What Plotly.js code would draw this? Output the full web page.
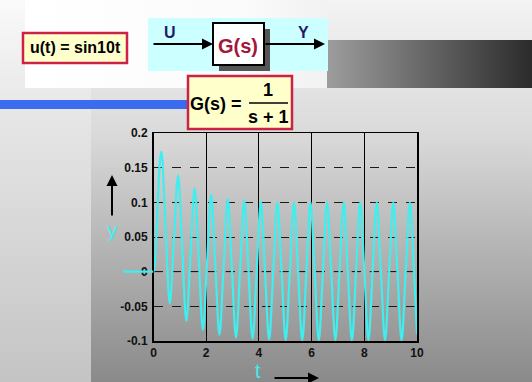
<!DOCTYPE html>
<html>
<head>
<meta charset="utf-8">
<script src="https://cdn.plot.ly/plotly-3.0.1.min.js"></script>
<style>
  html, body { margin:0; padding:0; }
  #wrap { position:relative; width:532px; height:382px; overflow:hidden;
    background: linear-gradient(to bottom, #f3f3f3 0%, #dadada 35%, #b3b3b3 66%, #8a8a8a 100%); }
  #strip { position:absolute; left:0; top:0; width:91px; height:382px;
    background: linear-gradient(to bottom, #fafafa 0%, #e6e6e6 30%, #c4c4c4 100%); }
  #whiteRect { position:absolute; left:25px; top:0; width:302px; height:88px;
    background: linear-gradient(to right, #ffffff 0%, #fbfbfb 70%, #f1f1f1 100%); }
  #band { position:absolute; left:327px; top:40px; width:205px; height:48px;
    background: linear-gradient(to right, #9d9d9d 0%, #6a6a6a 45%, #2b2b2b 100%); }
  #plot { position:absolute; left:0; top:0; width:532px; height:382px; }
</style>
</head>
<body>
<div id="wrap">
  <div id="strip"></div>
  <div id="whiteRect"></div>
  <div id="band"></div>
  <div id="plot"></div>
</div>
<script>
// ---- data ----
var preT = [-1.22, 0];
var preY = [0, 0];

var tVals = [0, 0.05, 0.10, 0.15, 0.20, 0.25, 0.30, 0.461, 0.618, 0.775, 0.933, 1.090, 1.247, 1.404, 1.561,
  1.718, 1.875, 2.032, 2.189, 2.346, 2.503, 2.660, 2.818, 2.975, 3.132, 3.289, 3.446, 3.603, 3.760,
  3.917, 4.074, 4.231, 4.388, 4.545, 4.702, 4.860, 5.017, 5.174, 5.331, 5.488, 5.645, 5.802, 5.959,
  6.116, 6.273, 6.430, 6.587, 6.745, 6.902, 7.059, 7.216, 7.373, 7.530, 7.687, 7.844, 8.001, 8.158,
  8.315, 8.472, 8.629, 8.787, 8.944, 9.101, 9.258, 9.415, 9.572, 9.729, 9.886, 10.0];
var yVals = [0, 0.012, 0.044, 0.088, 0.131, 0.162, 0.173, 0.062, -0.046, 0.046, 0.139, 0.033, -0.071, 0.024, 0.120,
  0.018, -0.084, 0.013, 0.111, 0.010, -0.091, 0.007, 0.105, 0.005, -0.095, 0.004, 0.103, 0.003, -0.097,
  0.002, 0.101, 0.001, -0.098, 0.001, 0.100, 0.001, -0.099, 0, 0.100, 0, -0.099, 0, 0.100,
  0, -0.099, 0, 0.100, 0, -0.099, 0, 0.100, 0, -0.099, 0, 0.100, 0, -0.099,
  0, 0.100, 0, -0.099, 0, 0.100, 0, -0.099, 0, 0.100, 0, -0.090];

var xTickVals = [0, 2, 4, 6, 8, 10];
var xTickText = ['0', '2', '4', '6', '8', '10'];
var yTickVals = [0.2, 0.15, 0.1, 0.05, 0, -0.05, -0.1];
var yTickText = ['0.2', '0.15', '0.1', '0.05', '0', '-0.05', '-0.1'];

var inputLabel = 'u(t) = sin10t';
var blockLabel = 'G(s)';
var inLabel = 'U';
var outLabel = 'Y';
var tfLeft = 'G(s) =';
var tfNum = '1';
var tfDen = 's + 1';
var yLabel = 'y';
var tLabel = 't';

// ---- layout helpers (pixel -> paper) ----
var W = 532, H = 382;
var mL = 123, mR = 115, mT = 133, mB = 41;
var pw = W - mL - mR, ph = H - mT - mB;
function px(x) { return (x - mL) / pw; }
function py(y) { return 1 - (y - mT) / ph; }
var xd0 = (153.5 - mL) / pw;

var FONT = 'Arial, "Liberation Sans", sans-serif';
var CYAN = '#3feeee';

function rect(x0, y0, x1, y1, fill, lc, lw) {
  return { type:'rect', xref:'paper', yref:'paper', x0:px(x0), x1:px(x1), y0:py(y1), y1:py(y0),
    fillcolor:fill, line:{ color: lc || 'rgba(0,0,0,0)', width: lw || 0 }, layer:'above' };
}
function txt(s, x, y, size, color, bold) {
  return { text: bold ? '<b>' + s + '</b>' : s, xref:'paper', yref:'paper', x:px(x), y:py(y),
    xanchor:'center', yanchor:'middle', showarrow:false,
    font:{ family:FONT, size:size, color:color } };
}
function arrow(hx, hy, ax, ay) {
  return { text:'', xref:'paper', yref:'paper', x:px(hx), y:py(hy), ax:ax, ay:ay,
    showarrow:true, arrowhead:2, arrowsize:1.1, arrowwidth:2, arrowcolor:'#000', standoff:0 };
}

var traces = [
  { x: preT, y: preY, xaxis:'x2', yaxis:'y2', mode:'lines', type:'scatter',
    line:{ color:CYAN, width:2.2 }, hoverinfo:'skip' },
  { x: tVals, y: yVals, xaxis:'x', yaxis:'y', mode:'lines', type:'scatter',
    line:{ color:CYAN, width:2.2, shape:'spline', smoothing:1 }, hoverinfo:'skip' }
];

var tickFont = { family:FONT, size:12, color:'#111', weight:700 };

var layout = {
  width:W, height:H,
  margin:{ l:mL, r:mR, t:mT, b:mB, pad:0 },
  paper_bgcolor:'rgba(0,0,0,0)', plot_bgcolor:'rgba(0,0,0,0)',
  showlegend:false,
  xaxis:{ domain:[xd0, 1], range:[0, 10], anchor:'y', tickvals:xTickVals, ticktext:xTickText,
    showgrid:true, gridcolor:'#000', gridwidth:1, zeroline:false,
    showline:true, linecolor:'#000', linewidth:1.5, mirror:true, ticks:'', tickfont:tickFont, ticklabelstandoff:0 },
  yaxis:{ range:[-0.1, 0.2], anchor:'x', tickvals:yTickVals, ticktext:yTickText,
    showgrid:true, gridcolor:'#1a1a1a', gridwidth:1, griddash:'dash', zeroline:false,
    showline:true, linecolor:'#000', linewidth:1.5, mirror:true, ticks:'', tickfont:tickFont, ticklabelstandoff:2 },
  xaxis2:{ domain:[0, xd0], range:[-1.22, 0], anchor:'y2', visible:false },
  yaxis2:{ range:[-0.1, 0.2], anchor:'x2', visible:false },
  shapes:[
    rect(0, 100, 188, 109, '#3b6cf0'),
    rect(148, 18, 328, 71, '#ccffff'),
    rect(219, 29, 270, 71, '#555555'),
    rect(213, 23, 264, 65, '#ffffff', '#000', 2),
    rect(23, 33, 127, 63, '#ffffcc', '#cc2246', 2.5),
    rect(188, 76, 292, 129, '#ffffcc', '#cc2246', 2.5),
    { type:'line', xref:'paper', yref:'paper', x0:px(249), x1:px(288), y0:py(103), y1:py(103),
      line:{ color:'#000', width:1.5 }, layer:'above' },
    { type:'line', xref:'x domain', yref:'y', x0:0, x1:1, y0:0, y1:0,
      line:{ color:'#d01010', width:1, dash:'dash' }, layer:'below' }
  ],
  annotations:[
    txt(inLabel, 170, 33, 16, '#1c1c6a', true),
    txt(outLabel, 303, 33, 16, '#1c1c6a', true),
    txt(blockLabel, 238, 46, 20, '#a3173a', true),
    txt(inputLabel, 75, 48, 16, '#000', true),
    txt(tfLeft, 216, 104, 18, '#000', true),
    txt(tfNum, 268, 90, 18, '#000', true),
    txt(tfDen, 268, 117, 18, '#000', true),
    txt(yLabel, 112, 229, 21, CYAN, false),
    txt(tLabel, 258, 371, 20, CYAN, false),
    arrow(213, 44, -61, 0),
    arrow(325, 44, -61, 0),
    arrow(112, 175, 0, 42),
    arrow(319, 378, -46, 0)
  ]
};

Plotly.newPlot('plot', traces, layout, { displayModeBar:false, staticPlot:true });
</script>
</body>
</html>
